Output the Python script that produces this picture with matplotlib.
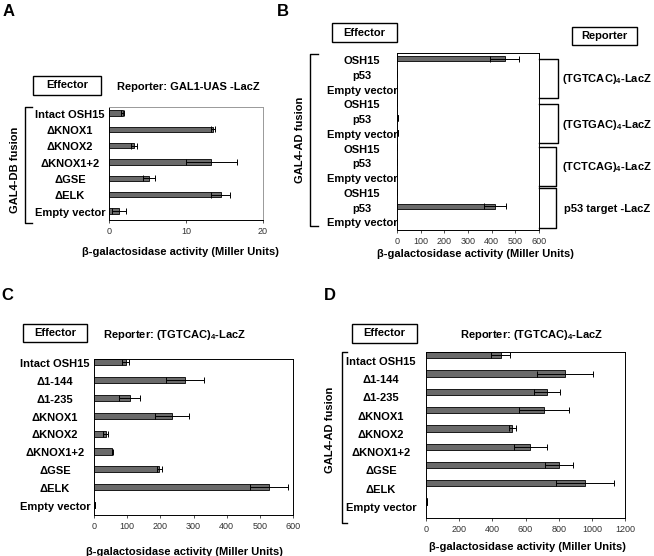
import numpy as np
import matplotlib
matplotlib.use("Agg")
import matplotlib.pyplot as plt
from matplotlib.patches import Rectangle
from matplotlib.lines import Line2D
from matplotlib.transforms import blended_transform_factory

plt.rcParams['font.family'] = ['Liberation Sans', 'DejaVu Sans']
plt.rcParams['mathtext.fontset'] = 'custom'
plt.rcParams['mathtext.rm'] = 'Liberation Sans:bold'
plt.rcParams['mathtext.bf'] = 'Liberation Sans:bold'

W, H = 654, 556

# panel A
a_labels = ["Intact OSH15", "ΔKNOX1", "ΔKNOX2", "ΔKNOX1+2", "ΔGSE", "ΔELK", "Empty vector"]
a_values = [1.8, 13.5, 3.3, 13.3, 5.2, 14.5, 1.3]
a_errors = [0.2, 0.3, 0.4, 3.3, 0.8, 1.2, 0.9]

# panel B
b_labels = ["OSH15", "p53", "Empty vector"] * 4
b_values = [455, 2, 2, 2, 5, 4, 2, 2, 2, 2, 415, 1]
b_errors = [60, 0, 0, 0, 0, 0, 0, 0, 0, 0, 47, 0]
b_reporters = ["(TGTCAC)$_4$-LacZ", "(TGTGAC)$_4$-LacZ", "(TCTCAG)$_4$-LacZ", "p53 target -LacZ"]

# panels C and D
cd_labels = ["Intact OSH15", "Δ1-144", "Δ1-235", "ΔKNOX1", "ΔKNOX2", "ΔKNOX1+2", "ΔGSE", "ΔELK", "Empty vector"]
c_values = [95, 275, 108, 235, 35, 55, 197, 528, 3]
c_errors = [10, 57, 32, 52, 8, 2, 7, 57, 0]
d_values = [450, 840, 730, 710, 520, 630, 800, 960, 6]
d_errors = [58, 170, 80, 150, 20, 100, 85, 175, 0]

XLABEL = "β-galactosidase activity (Miller Units)"
BOLD = dict(fontweight='bold', fontsize=8)


def fx(x):
    return x / W


def fy(y):
    return 1 - y / H


fig = plt.figure(figsize=(W / 100, H / 100), dpi=100)


def add_ax(x0, y0, x1, y1):
    return fig.add_axes([fx(x0), fy(y1), (x1 - x0) / W, (y1 - y0) / H])


def line(xs, ys, lw=1.0):
    fig.add_artist(Line2D([fx(x) for x in xs], [fy(y) for y in ys], lw=lw,
                          color='black', transform=fig.transFigure))


def box(x0, y0, x1, y1, text):
    fig.add_artist(Rectangle((fx(x0), fy(y1)), (x1 - x0) / W, (y1 - y0) / H,
                             fill=False, lw=1.0, ec='black', transform=fig.transFigure))
    fig.text(fx((x0 + x1) / 2), fy((y0 + y1) / 2), text, ha='center', va='center', **BOLD)


def panel(ax, labels, values, errors, xlim, xticks, ylim, label_x, label_off, spine='black'):
    y = np.arange(len(values))
    ax.barh(y, values, height=0.34, color='#6a6a6a', edgecolor='black', lw=0.6)
    ax.errorbar(values, y, xerr=errors, fmt='none', ecolor='black', elinewidth=0.7,
                capsize=2, capthick=0.7)
    ax.set_xlim(*xlim)
    ax.set_ylim(*ylim)
    ax.set_xticks(xticks)
    ax.set_yticks([])
    ax.tick_params(axis='x', labelsize=6.5, length=2, width=0.6, colors='#333333', pad=3)
    for s in ax.spines.values():
        s.set_color(spine)
        s.set_linewidth(0.7)
    ax.spines['left'].set_color('black')
    ax.spines['bottom'].set_color('black')
    tr = blended_transform_factory(fig.transFigure, ax.transData)
    for i, lab in enumerate(labels):
        ax.text(fx(label_x), i + label_off, lab, transform=tr, ha='center', va='center',
                clip_on=False, **BOLD)


# ---- A ----
axA = add_ax(109, 107, 263, 220)
panel(axA, a_labels, a_values, a_errors, (0, 20), [0, 10, 20], (6.55, -0.37), 70, 0.1,
      spine='#999999')
fig.text(fx(9), fy(12), "A", fontsize=12, fontweight='bold', ha='center', va='center')
box(33, 76, 101, 95, "Effector")
fig.text(fx(188), fy(87), "Reporter: GAL1-UAS -LacZ", ha='center', va='center', **BOLD)
line([32, 25, 25, 32], [107, 107, 223, 223])
fig.text(fx(15), fy(170), "GAL4-DB fusion", rotation=90, ha='center', va='center', **BOLD)
fig.text(fx(180), fy(252), XLABEL, ha='center', va='center', **BOLD)

# ---- B ----
axB = add_ax(397, 53, 539, 230)
panel(axB, b_labels, b_values, b_errors, (0, 600), np.arange(0, 601, 100), (11.6, -0.4),
      362, 0.15)
fig.text(fx(283), fy(12), "B", fontsize=12, fontweight='bold', ha='center', va='center')
box(332, 23, 397, 42, "Effector")
box(572, 27, 637, 45, "Reporter")
line([318, 310, 310, 318], [54, 54, 226, 226])
fig.text(fx(300), fy(140), "GAL4-AD fusion", rotation=90, ha='center', va='center', **BOLD)
groups = [(59, 98, 558), (104, 143, 558), (147, 186, 556), (188, 228, 556)]
for (g0, g1, gx), rep in zip(groups, b_reporters):
    line([539, gx, gx, 539], [g0, g0, g1, g1])
    fig.text(fx(607), fy((g0 + g1) / 2 + 1), rep, ha='center', va='center', **BOLD)
fig.text(fx(475), fy(254), XLABEL, ha='center', va='center', **BOLD)

# ---- C ----
axC = add_ax(94, 359, 293, 515)
panel(axC, cd_labels, c_values, c_errors, (0, 600), np.arange(0, 601, 100), (8.56, -0.19),
      55, 0.1)
fig.text(fx(7), fy(296), "C", fontsize=12, fontweight='bold', ha='center', va='center')
box(23, 324, 87, 342, "Effector")
fig.text(fx(175), fy(335), "Reporter: (TGTCAC)$_4$-LacZ", ha='center', va='center', **BOLD)
fig.text(fx(184), fy(552), XLABEL, ha='center', va='center', **BOLD)

# ---- D ----
axD = add_ax(426, 352, 625, 518)
panel(axD, cd_labels, d_values, d_errors, (0, 1200), np.arange(0, 1201, 200), (8.9, -0.18),
      381, 0.35)
fig.text(fx(330), fy(296), "D", fontsize=12, fontweight='bold', ha='center', va='center')
box(352, 324, 417, 343, "Effector")
fig.text(fx(532), fy(335), "Reporter: (TGTCAC)$_4$-LacZ", ha='center', va='center', **BOLD)
line([347, 342, 342, 347], [352, 352, 523, 523])
fig.text(fx(330), fy(430), "GAL4-AD fusion", rotation=90, ha='center', va='center', **BOLD)
fig.text(fx(527), fy(547), XLABEL, ha='center', va='center', **BOLD)

fig.savefig("out.png", dpi=100)
